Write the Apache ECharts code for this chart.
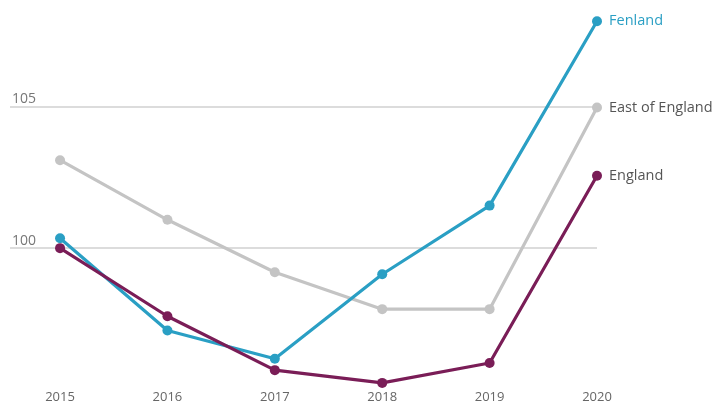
<!DOCTYPE html>
<html><head><meta charset="utf-8">
<script src="https://cdn.jsdelivr.net/npm/echarts@6/dist/echarts.min.js"></script>
<style>html,body{margin:0;padding:0;background:#fff}#c{width:720px;height:410px}</style>
</head><body><div id="c"></div>
<script>
const years = [2015, 2016, 2017, 2018, 2019, 2020];
const fenland = [100.35, 97.1, 96.1, 99.08, 101.5, 108.0];
const eastOfEngland = [103.1, 101.0, 99.15, 97.85, 97.85, 104.96];
const england = [100.0, 97.6, 95.7, 95.25, 95.95, 102.55];
const yTickLabels = [100, 105];

const font = '"Open Sans", sans-serif';
function mk(name, vals, color, labelColor, z) {
  return {
    name: name, type: 'line', z: z,
    data: years.map((y, i) => [y, vals[i]]),
    symbol: 'circle', symbolSize: 10,
    lineStyle: { width: 3.2, color: color },
    itemStyle: { color: color },
    endLabel: { show: true, formatter: name, color: labelColor, fontFamily: font, fontSize: 14.5, distance: 12 },
    animation: false
  };
}
const chart = echarts.init(document.getElementById('c'));
chart.setOption({
  animation: false,
  grid: { left: 10, right: 123, top: 7, bottom: 20 },
  xAxis: {
    type: 'value', min: 2014.534, max: 2020,
    axisLine: { show: false }, axisTick: { show: false }, splitLine: { show: false },
    axisLabel: { customValues: years, color: '#666', fontFamily: font, fontSize: 13, margin: 1, formatter: v => String(v) }
  },
  yAxis: {
    type: 'value', min: 95, max: 108.5, interval: 5,
    axisLine: { show: false }, axisTick: { show: false },
    splitLine: { show: true, lineStyle: { color: ['rgba(0,0,0,0)', '#d0d0d0', '#d0d0d0', 'rgba(0,0,0,0)'], width: 1.5 } },
    axisLabel: {
      inside: true, verticalAlign: 'bottom', margin: 2, color: '#777', fontFamily: font, fontSize: 14,
      formatter: v => yTickLabels.includes(v) ? String(v) : ''
    }
  },
  series: [
    mk('East of England', eastOfEngland, '#c4c4c4', '#555', 2),
    mk('Fenland', fenland, '#2a9fc4', '#2a9fc4', 3),
    mk('England', england, '#7a1d57', '#555', 4)
  ]
});
</script></body></html>
